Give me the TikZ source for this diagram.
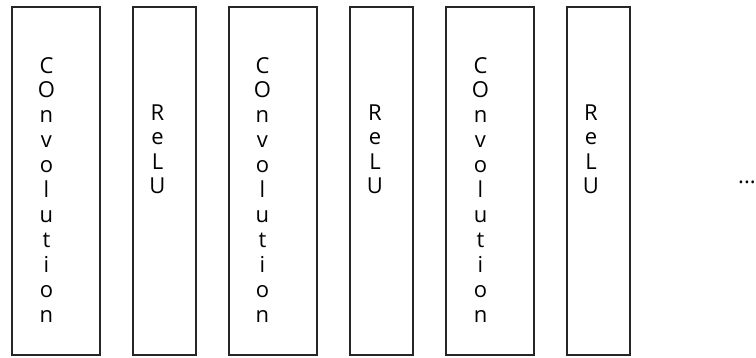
\documentclass[tikz,border=0pt]{standalone}
\usepackage{fontspec}
\setmainfont{Open Sans}
\begin{document}
\begin{tikzpicture}[x=1pt,y=-1pt,
  layerbox/.style={draw=black!85, line width=1.5pt, rectangle, inner sep=0pt, minimum height=348pt},
  convbox/.style={layerbox, minimum width=88pt},
  relubox/.style={layerbox, minimum width=63pt},
  letter/.style={font=\fontsize{22}{26}\selectfont, text=black, inner sep=0pt, anchor=base}]
\useasboundingbox (0,0) rectangle (756,357);
% boxes
\node[convbox] (conv1) at (56,181) {};
\node[relubox] (relu1) at (164.5,181) {};
\node[convbox] (conv2) at (273,181) {};
\node[relubox] (relu2) at (381.5,181) {};
\node[convbox] (conv3) at (490,181) {};
\node[relubox] (relu3) at (598.5,181) {};
% labels
\foreach \cx/\nm in {46.5/c1, 262.5/c2, 480.5/c3}{
  \foreach \l [count=\i from 0] in {C,O,n,v,o,l,u,t,i,o,n}{
    \node[letter] (\nm-\i) at (\cx,{73+24.9*\i}) {\l};
  }
}
\foreach \cx/\nm in {157.5/r1, 375/r2, 591/r3}{
  \foreach \l [count=\i from 0] in {R,e,L,U}{
    \node[letter] (\nm-\i) at (\cx,{120+24.5*\i}) {\l};
  }
}
\node[letter] (dots) at (747,183.5) {...};
\end{tikzpicture}
\end{document}
